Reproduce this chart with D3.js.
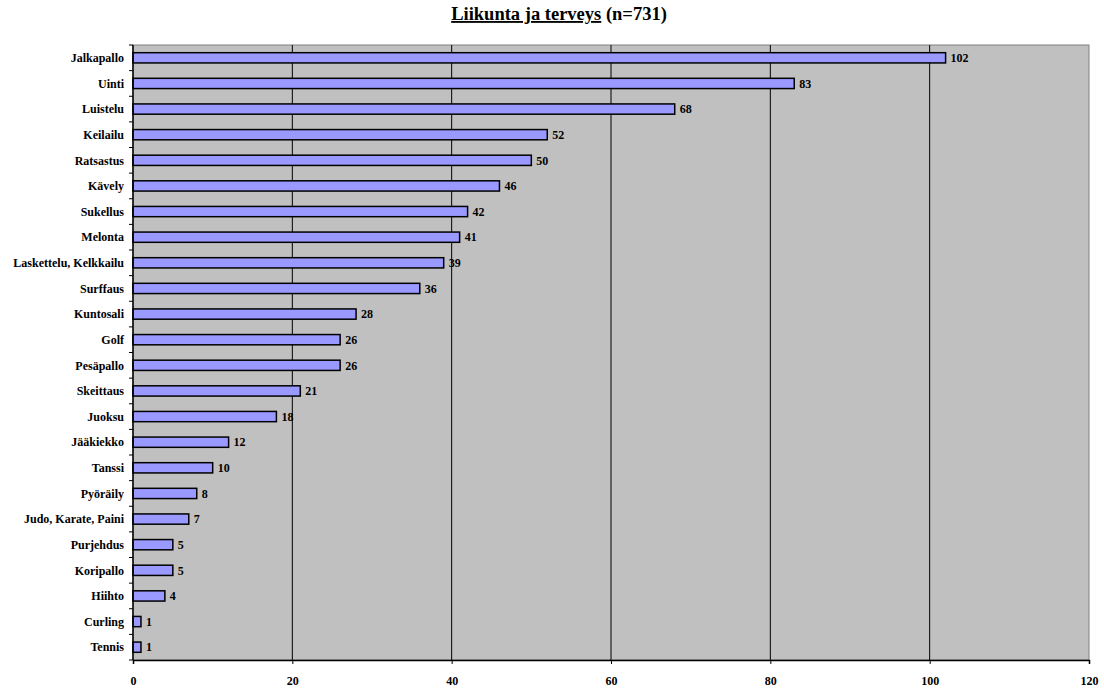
<!DOCTYPE html>
<html>
<head>
<meta charset="utf-8">
<script src="https://cdn.jsdelivr.net/npm/d3@7"></script>
<style>
  body { margin: 0; background: #fff; }
  svg { font-family: "Liberation Serif", "Times New Roman", serif; font-weight: bold; }
</style>
</head>
<body>
<div id="chart"></div>
<script>
const width = 1104;
const height = 688;

const categories = ['Jalkapallo', 'Uinti', 'Luistelu', 'Keilailu', 'Ratsastus', 'Kävely', 'Sukellus', 'Melonta',
  'Laskettelu, Kelkkailu', 'Surffaus', 'Kuntosali', 'Golf', 'Pesäpallo', 'Skeittaus', 'Juoksu', 'Jääkiekko',
  'Tanssi', 'Pyöräily', 'Judo, Karate, Paini', 'Purjehdus', 'Koripallo', 'Hiihto', 'Curling', 'Tennis'];
const values = [102, 83, 68, 52, 50, 46, 42, 41, 39, 36, 28, 26, 26, 21, 18, 12, 10, 8, 7, 5, 5, 4, 1, 1];
const xTicks = [0, 20, 40, 60, 80, 100, 120];

const margin = {top: 45, right: 15, bottom: 28, left: 133};
const innerW = 1089 - margin.left;
const innerH = 660 - margin.top;

const svg = d3.select('#chart').append('svg').attr('width', width).attr('height', height);

// title
const title = svg.append('text').attr('x', 559).attr('y', 20).attr('text-anchor', 'middle').attr('font-size', 18.5);
title.append('tspan').attr('text-decoration', 'underline').text('Liikunta ja terveys');
title.append('tspan').text(' (n=731)');

const x = d3.scaleLinear().domain([0, 120]).range([0, innerW]);
const y = d3.scaleBand().domain(categories).range([0, innerH]).paddingInner(0.6).paddingOuter(0.3);

const g = svg.append('g').attr('transform', 'translate(' + margin.left + ',' + margin.top + ')');

g.append('rect').attr('width', innerW).attr('height', innerH).attr('fill', '#c0c0c0')
  .attr('stroke', '#808080').attr('stroke-width', 1);

// gridlines
g.selectAll('.grid').data(xTicks.slice(1, -1)).enter().append('line')
  .attr('x1', d => x(d)).attr('x2', d => x(d)).attr('y1', 0).attr('y2', innerH)
  .attr('stroke', '#000').attr('stroke-width', 1);

// bars
g.selectAll('.bar').data(values).enter().append('rect')
  .attr('x', 0)
  .attr('y', (d, i) => y(categories[i]))
  .attr('width', d => x(d))
  .attr('height', y.bandwidth())
  .attr('fill', '#9999ff').attr('stroke', '#000').attr('stroke-width', 1.5);

// value labels
g.selectAll('.val').data(values).enter().append('text')
  .attr('x', d => x(d) + 5)
  .attr('y', (d, i) => y(categories[i]) + y.bandwidth() / 2)
  .attr('dy', '0.35em').attr('font-size', 12).text(d => d);

// y axis with ticks between categories
const step = innerH / categories.length;
g.append('line').attr('x1', 0).attr('x2', 0).attr('y1', 0).attr('y2', innerH).attr('stroke', '#000').attr('stroke-width', 1.5);
g.selectAll('.ytick').data(d3.range(categories.length + 1)).enter().append('line')
  .attr('x1', -4).attr('x2', 0).attr('y1', d => d * step).attr('y2', d => d * step).attr('stroke', '#000');
g.selectAll('.ylab').data(categories).enter().append('text')
  .attr('x', -9).attr('y', d => y(d) + y.bandwidth() / 2).attr('dy', '0.35em')
  .attr('text-anchor', 'end').attr('font-size', 12).text(d => d);

// x axis
const xAxis = g.append('g').attr('transform', 'translate(0,' + innerH + ')')
  .call(d3.axisBottom(x).tickValues(xTicks).tickSize(4).tickPadding(12));
xAxis.select('.domain').attr('stroke-width', 1.5);
xAxis.selectAll('text').attr('font-size', 12).attr('font-family', '"Liberation Serif", serif').attr('font-weight', 'bold');
</script>
</body>
</html>
